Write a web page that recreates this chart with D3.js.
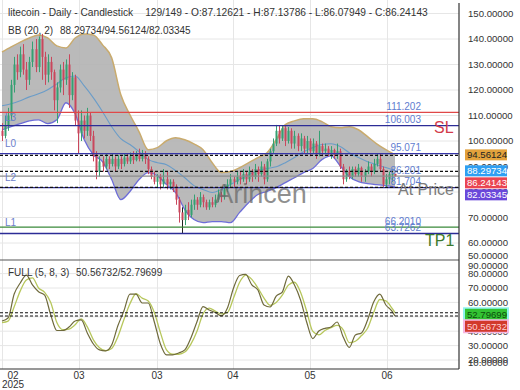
<!DOCTYPE html>
<html><head><meta charset="utf-8">
<script src="https://cdn.jsdelivr.net/npm/d3@7/dist/d3.min.js"></script>
<style>body{margin:0;background:#fff;} svg{display:block;font-family:"Liberation Sans",Arial,sans-serif;}</style>
</head><body><svg id="c" width="520" height="390"></svg>
<script>
// ---------- DATA ----------
const opens  = [104,102,106,110,122,130,127,134,128,124,131,136,129,140,133,126,131,127,116,121,128,124,130,118,125,108,103,108,104,110,
102,94,88,92,90,93,91,93,90,93,91,93.5,92,94,92.5,95,93,95,93,89,86,84,86,83,85,83,84,82,77,72,
69,73,71,75,77,75,78,76,74,76,75,77,79,78,81,83,85,84,86,85,87,85,88,86,89,87,90,85,92,96,
99,104,101,105,100,104,99,102,98,101,97,100,96,99,95,98,96,97,95,96.5,94.5,96,90,85,88,86,89,87,89.5,86,
88,90,88,91,93,89,83,85,87,87.12621];
const highs  = [107,110,113,124,133,134,137,138,131,133,139,140,141,142,135,134,133,128,123,130,131,132,134,127,126,112,112,110,113,111,
104,96,94,94,95,94,95,94,94.5,94,95,95,95.5,96,96,97,96.5,96,94,90,88,87,87,89,88,85,85,83,78,74,
75,76,77,79,78,80,79,77,77,78,79,81,80,83,85,87,86,88,88,89,88,90,89,91,90,92,91,93,97,101,
106.3,106,106,106,105.5,105,104,103,103,102,102,101,101,100,104,99,99,98,98,97,99,97,91,89,90,90,90,91,90,89,
92,91,93,95,95,90,87,88,88,87.13786];
const lows   = [100,101,104,108,119,124,125,126,120,122,129,127,127,124,122,123,124,112,107,119,118,122,113,116,106,95,100,101,102,100,
92,85,86,88,89,89,90,88,89,89,90,91,91,91,92,92,92,91,87,85,83,82,81,82,81,81,80,75,68,63.7262,
67,69,70,73,73,74,74,73,73,74,74,76,76,77,80,82,82,83,83,84,83,84,84,85,84,86,83,84,90,95,
98,99,100,98,99,97,97,96,96,95,95,94,95,93,94,94,95,94,93,93,93,89,83,84,85,85,86,86,84,84,
87,86,87,90,88,82,82,83,84,86.07949];
const closes = [102,106,110,122,130,127,134,128,124,131,136,129,140,133,126,131,127,116,121,128,124,130,118,125,108,103,108,104,110,102,
94,88,92,90,93,91,93,90,93,91,93.5,92,94,92.5,95,93,95,93,89,86,84,86,83,85,83,84,82,77,72,69,
73,71,75,77,75,78,76,74,76,75,77,79,78,81,83,85,84,86,85,87,85,88,86,89,87,90,85,92,96,99,
104,101,105,100,104,99,102,98,101,97,100,96,99,95,98,96,97,95,96.5,94.5,96,90,85,88,86,89,87,89.5,86,88,
90,88,91,93,89,83,85,87,87.12621,86.24143];

// Bollinger Bands (20,2) read at every 3rd candle
const bbIndex  = [0,3,6,9,12,15,18,21,24,27,30,33,36,39,42,45,48,51,54,57,60,63,66,69,72,75,78,81,84,87,90,93,96,99,102,105,108,111,114,117,120,123,126,129];
const bbUpper  = [134.9,136.9,138.8,140.4,141.6,140.4,137.3,136.5,140.4,142.0,141.6,137.7,132.6,118.1,110.3,103.6,96.6,97.4,100.1,101.3,100.5,98.9,96.6,91.5,87.6,88.0,89.5,91.5,93.5,95.4,100.5,106.4,107.9,108.7,108.7,107.6,105.6,105.2,105.6,104.4,101.7,98.9,96.6,94.56124];
const bbMiddle = [113.8,114.6,115.8,117.3,118.5,120.1,122.4,124.8,125.5,121.6,116.9,111.5,105.6,100.9,98.6,95.8,92.7,91.5,90.7,88.4,85.6,82.5,81.0,79.8,81.0,82.9,84.9,86.8,88.4,89.2,89.9,91.5,93.5,95.8,97.4,98.6,98.9,97.8,95.4,93.5,91.9,90.7,89.6,88.29734];
const bbLower  = [104.4,105.6,106.8,107.9,108.3,106.8,108.3,115.0,110.7,100.5,94.6,91.9,84.9,77.0,80.2,84.9,87.6,86.4,82.9,79.8,73.1,69.2,68.0,68.4,68.4,68.0,72.0,75.9,79.0,80.2,81.7,83.7,85.6,87.6,89.2,92.7,94.2,90.3,86.0,84.1,83.3,82.9,82.5,82.03345];

// Full stochastic (5,8,3)
const stIndex = [0,2,4,6,8,10,12,14,16,18,20,22,24,26,28,30,32,34,36,38,40,42,44,46,48,50,52,54,56,58,60,62,64,66,68,70,72,74,76,78,80,82,84,86,88,90,92,94,96,98,100,102,104,106,108,110,112,114,116,118,120,122,124,126,128,129];
const stochK = [47.1,49.2,65.8,73.5,79.0,72.1,67.4,65.1,51.3,40.5,40.5,42.9,47.1,47.8,38.8,31.1,27.0,26.3,30.4,43.6,54.0,65.8,65.8,59.6,59.6,46.4,31.1,23.5,23.5,24.9,27.0,35.3,46.6,57.0,54.7,53.0,50.6,56.1,70.0,78.7,79.4,72.1,68.6,58.2,56.8,64.4,67.2,78.3,72.1,61.7,46.4,34.9,40.1,42.0,42.9,46.4,36.0,28.7,37.4,38.8,47.8,60.3,65.8,58.2,54.0,50.56732];
const stochD = [46,47,57,68,75.5,77,70,67,60,46,41,41.5,44.5,48.5,43,34,28.5,26.5,28,36,48,59,66,63,61,53,39,27,24,24,25.5,31,40,52,56,54,52,53,63,74,79,76,70,63,58,60,65,72,74,67,54,40,37.5,40.5,42.5,44,41,32,33,37,42,53,62,61,56,52.79699];

const priceTicks = [50,60,70,80,90,100,110,120,130,140,150];
const stochTicks = [10,20,30,40,50,60,70,80,90];
const dateTickIndex = [0.16,25.3,50.9,75.8,101.1,126.4];
const dateTickLabels = ["02","03","03","04","05","06"];

const levelValues = [111.202,106.003,95.071,86.201,81.704,66.201,63.7262];
const levelLabels = ["111.202","106.003","95.071","86.201","81.704","66.2010","63.7262"];
const levelColors = ["#e04848","#2c2c96","#3434a8","#8c8c8c","#2c2c96","#3a8a3a","#2c2c96"];

const headerTitle = "litecoin - Daily - Candlestick";
const headerOHLC = "129/149 - O:87.12621 - H:87.13786 - L:86.07949 - C:86.24143";

// ---------- LAYOUT ----------
const svg = d3.select("#c");
const plotR = 459, mainB = 260, stB = 369;
const x = d3.scaleLinear().domain([0,129]).range([2,395]);
const yP = d3.scaleLinear().domain([60,150]).range([243,13.5]);
const yS = d3.scaleLinear().domain([20,70]).range([360,288]);
const fmt5 = d3.format(".5f");

const defs = svg.append("defs");
defs.append("clipPath").attr("id","cm").append("rect").attr("x",0).attr("y",0).attr("width",plotR).attr("height",mainB);
defs.append("clipPath").attr("id","cs").append("rect").attr("x",0).attr("y",mainB).attr("width",plotR).attr("height",stB-mainB);

// grid
const grid = svg.append("g").attr("stroke","#e6e6e6").attr("stroke-width",1);
dateTickIndex.forEach(d=>{ const xx=Math.round(x(d))+0.5; grid.append("line").attr("x1",xx).attr("x2",xx).attr("y1",0).attr("y2",stB); });
priceTicks.forEach(t=>{ const yy=yP(t); if(yy>0&&yy<mainB) grid.append("line").attr("x1",0).attr("x2",plotR).attr("y1",yy).attr("y2",yy); });
stochTicks.forEach(t=>{ const yy=yS(t); if(yy>mainB&&yy<stB) grid.append("line").attr("x1",0).attr("x2",plotR).attr("y1",yy).attr("y2",yy); });

// ---------- MAIN PANEL ----------
const gm = svg.append("g").attr("clip-path","url(#cm)");
const bb = bbIndex.map((d,i)=>({i:d,u:bbUpper[i],m:bbMiddle[i],l:bbLower[i]}));
const curve = d3.curveMonotoneX;
gm.append("path").datum(bb).attr("fill","#b3b3b3").attr("fill-opacity",0.9)
  .attr("d", d3.area().x(d=>x(d.i)).y0(d=>yP(d.l)).y1(d=>yP(d.u)).curve(curve));
gm.append("path").datum(bb).attr("fill","none").attr("stroke","#c9ab6e").attr("stroke-width",1.5)
  .attr("d", d3.line().x(d=>x(d.i)).y(d=>yP(d.u)).curve(curve));
gm.append("path").datum(bb).attr("fill","none").attr("stroke","#6d6dd8").attr("stroke-width",1.3)
  .attr("d", d3.line().x(d=>x(d.i)).y(d=>yP(d.l)).curve(curve));
gm.append("path").datum(bb).attr("fill","none").attr("stroke","#6a9cc8").attr("stroke-width",1.1)
  .attr("d", d3.line().x(d=>x(d.i)).y(d=>yP(d.m)).curve(curve));

// candles
const cd = closes.map((c,i)=>({i,o:opens[i],h:highs[i],l:lows[i],c}));
const cg = gm.append("g");
cd.forEach(d=>{
  const col = d.c>=d.o ? "#35a072" : "#c9475c";
  const xx = Math.round(x(d.i))+0.5;
  cg.append("line").attr("x1",xx).attr("x2",xx).attr("y1",yP(d.h)).attr("y2",yP(d.l))
    .attr("stroke", d.l<64 ? "#222" : col).attr("stroke-width",1);
  const y0=yP(Math.max(d.o,d.c)), y1=yP(Math.min(d.o,d.c));
  cg.append("rect").attr("x",xx-1).attr("width",2).attr("y",y0).attr("height",Math.max(1,y1-y0)).attr("fill",col);
});

// watermark
gm.append("text").attr("x",261).attr("y",203).attr("text-anchor","middle").attr("font-size",27)
  .attr("fill","#6a6a6a").attr("fill-opacity",0.75).text("Arincen");

// levels
levelValues.forEach((v,k)=>{
  const yy=yP(v);
  gm.append("line").attr("x1",0).attr("x2",plotR).attr("y1",yy).attr("y2",yy)
    .attr("stroke",levelColors[k]).attr("stroke-width",1.3);
});
// BB dashed current lines
[bbUpper[bbUpper.length-1], bbMiddle[bbMiddle.length-1], bbLower[bbLower.length-1]].forEach(v=>{
  const yy=yP(v)+0.5;
  gm.append("line").attr("x1",0).attr("x2",plotR).attr("y1",yy).attr("y2",yy)
    .attr("stroke","#111").attr("stroke-width",1.2).attr("stroke-dasharray","3,2");
});
levelValues.forEach((v,k)=>{
  gm.append("text").attr("x",421).attr("y",yP(v)-2.5).attr("text-anchor","end").attr("font-size",10)
    .attr("fill","#5f7dd0").text(levelLabels[k]);
});
// L labels
const lab = (t,yy)=>svg.append("text").attr("x",5).attr("y",yy).attr("font-size",10).attr("fill","#6d80cc").text(t);
lab("L3", yP(levelValues[0])+8.5);
lab("L0", yP(levelValues[2])-6.5);
lab("L2", yP(levelValues[3])+5);
lab("L1", yP(levelValues[5])-1);
// SL / TP1 / At Price
svg.append("text").attr("x",434).attr("y",yP(levelValues[1])+7).attr("font-size",16).attr("fill","#d23a4a").text("SL");
svg.append("text").attr("x",425).attr("y",yP(levelValues[6])+13).attr("font-size",16).attr("fill","#3d7a2c").text("TP1");
svg.append("text").attr("x",398).attr("y",yP(levelValues[4])+7.5).attr("font-size",16).attr("fill","#7c7c7c").text("At Price");

// ---------- STOCH PANEL ----------
const gs = svg.append("g").attr("clip-path","url(#cs)");
const st = stIndex.map((d,i)=>({i:d,k:stochK[i],dd:stochD[i]}));
gs.append("path").datum(st).attr("fill","none").attr("stroke","#b7c75c").attr("stroke-width",1.3)
  .attr("d", d3.line().x(d=>x(d.i)).y(d=>yS(d.dd)).curve(curve));
gs.append("path").datum(st).attr("fill","none").attr("stroke","#6f6a3c").attr("stroke-width",1.2)
  .attr("d", d3.line().x(d=>x(d.i)).y(d=>yS(d.k)).curve(curve));
[stochD[stochD.length-1], stochK[stochK.length-1]].forEach(v=>{
  const yy=yS(v);
  gs.append("line").attr("x1",0).attr("x2",plotR).attr("y1",yy).attr("y2",yy)
    .attr("stroke","#111").attr("stroke-width",1.2).attr("stroke-dasharray","3,2");
});

// ---------- FRAME ----------
svg.append("line").attr("x1",0).attr("x2",plotR).attr("y1",mainB).attr("y2",mainB).attr("stroke","#555").attr("stroke-width",1.2);
svg.append("line").attr("x1",0).attr("x2",plotR).attr("y1",stB).attr("y2",stB).attr("stroke","#333").attr("stroke-width",1.2);
svg.append("line").attr("x1",plotR).attr("x2",plotR).attr("y1",3).attr("y2",stB).attr("stroke","#333").attr("stroke-width",1.2);

// ---------- AXES LABELS ----------
priceTicks.forEach(t=>{
  const yy=Math.min(yP(t),256);
  svg.append("text").attr("x",468).attr("y",yy).attr("dy","0.35em").attr("font-size",9.6).attr("fill","#333").text(fmt5(t));
});
stochTicks.forEach(t=>{
  const yy=Math.max(266,Math.min(yS(t),363));
  svg.append("text").attr("x",468).attr("y",yy).attr("dy","0.35em").attr("font-size",9.6).attr("fill","#333").text(fmt5(t));
});
dateTickIndex.forEach((d,k)=>{
  const xx=Math.max(x(d),13);
  svg.append("text").attr("x",xx).attr("y",379).attr("text-anchor","middle").attr("font-size",10).attr("fill","#333").text(dateTickLabels[k]);
});
svg.append("text").attr("x",13).attr("y",388).attr("text-anchor","middle").attr("font-size",10).attr("fill","#333").text("2025");

// value boxes (main)
const mainBoxes = [
  {v:bbUpper[bbUpper.length-1], fill:"#e3a23c", tc:"#222"},
  {v:bbMiddle[bbMiddle.length-1], fill:"#2f9ff2", tc:"#fff"},
  {v:closes[closes.length-1], fill:"#ea4552", tc:"#fff"},
  {v:bbLower[bbLower.length-1], fill:"#6a48da", tc:"#fff"}
];
let prev=-1e9;
mainBoxes.forEach(b=>{
  let yy=Math.max(yP(b.v), prev+12); prev=yy;
  svg.append("rect").attr("x",465).attr("y",yy-5.5).attr("width",42).attr("height",11).attr("fill",b.fill);
  svg.append("text").attr("x",467).attr("y",yy).attr("dy","0.36em").attr("font-size",9.6).attr("fill",b.tc).text(fmt5(b.v));
});
// stoch boxes
const stBoxes = [
  {v:stochD[stochD.length-1], fill:"#33c233", halo:"#8ff3ee", tc:"#0b4d0b"},
  {v:stochK[stochK.length-1], fill:"#d2392b", halo:"#f6b8e2", tc:"#ffd0d0"}
];
prev=-1e9;
stBoxes.forEach(b=>{
  let yy=Math.max(yS(b.v)+1.5, prev+12); prev=yy;
  svg.append("rect").attr("x",463).attr("y",yy-7).attr("width",46).attr("height",14).attr("fill",b.halo);
  svg.append("rect").attr("x",465).attr("y",yy-5.5).attr("width",42).attr("height",11).attr("fill",b.fill);
  svg.append("text").attr("x",467).attr("y",yy).attr("dy","0.36em").attr("font-size",9.6).attr("fill",b.tc).text(fmt5(b.v));
});

// ---------- HEADERS ----------
const t1 = svg.append("text").attr("x",8).attr("y",16).attr("font-size",10.2).attr("fill","#333").text(headerTitle);
const t1End = 8 + t1.node().getComputedTextLength();
svg.append("text").attr("x",t1End+12).attr("y",16).attr("font-size",10.2).attr("fill","#333").text(headerOHLC);
svg.append("text").attr("x",8).attr("y",34).attr("font-size",10).attr("fill","#333").text("BB (20, 2)");
svg.append("text").attr("x",60).attr("y",34).attr("font-size",10).attr("fill","#333")
  .text(bbMiddle[bbMiddle.length-1]+"/"+bbUpper[bbUpper.length-1]+"/"+bbLower[bbLower.length-1]);
svg.append("text").attr("x",8).attr("y",276).attr("font-size",10).attr("fill","#333").text("FULL (5, 8, 3)");
svg.append("text").attr("x",76).attr("y",276).attr("font-size",10).attr("fill","#333")
  .text(stochK[stochK.length-1]+"/"+stochD[stochD.length-1]);
</script></body></html>
